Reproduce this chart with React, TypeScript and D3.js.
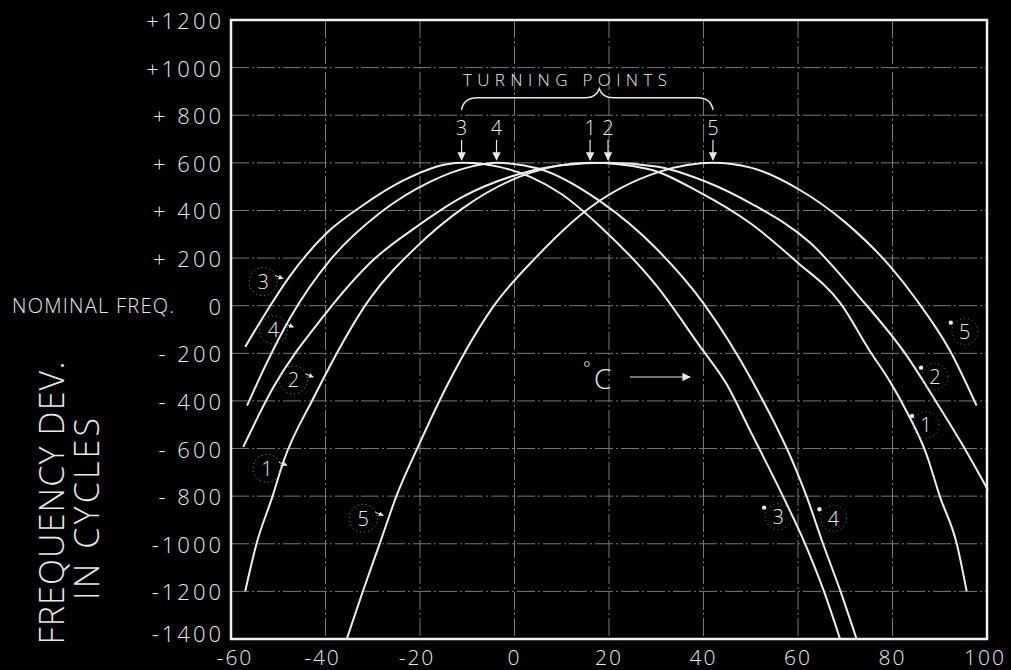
import React from "react";
import * as d3 from "d3";

const W = 1011;
const H = 670;

// Axis ticks and labels
const xTicks = [-60, -40, -20, 0, 20, 40, 60, 80, 100];
const xTickLabels = ["-60", "-40", "-20", "0", "20", "40", "60", "80", "100"];
const yTicks = [1200, 1000, 800, 600, 400, 200, 0, -200, -400, -600, -800, -1000, -1200, -1400];
const yTickLabels = ["+1200", "+1000", "+ 800", "+ 600", "+ 400", "+ 200", "0", "- 200", "- 400", "- 600", "- 800", "-1000", "-1200", "-1400"];

// Curves: [temperature °C, frequency deviation in cycles]
const curve1: [number, number][] = [
  [-57, -1200], [-54.6, -1000], [-51.2, -800], [-49, -660], [-42.6, -390], [-30.6, 30],
  [-20.7, 248], [-10.9, 410], [3.3, 558], [16, 600], [28, 575], [39.3, 475], [50, 345],
  [59.7, 185], [69, 10], [75.2, -190], [79.5, -320], [82.6, -430], [87.2, -625],
  [90, -800], [93.6, -1000], [95.7, -1200],
];
const curve2: [number, number][] = [
  [-57.4, -593], [-51.1, -345], [-40.5, -46], [-29.9, 192], [-20.7, 332], [-10.9, 458],
  [0.5, 550], [10, 590], [19.8, 600], [30, 585], [40, 525], [50, 430], [62.7, 262],
  [72.4, 50], [83, -210], [89, -396], [94.6, -577], [100.2, -774],
];
const curve3: [number, number][] = [
  [-57, -173], [-51.7, 0], [-47.8, 117], [-39.7, 306], [-32, 423], [-23.6, 525],
  [-14.3, 594], [-11, 600], [-3, 582], [3.7, 538], [10, 468], [18, 335], [30, 85],
  [39.3, -172], [44.9, -330], [50, -530], [56.8, -800], [61.5, -1000], [65.5, -1200],
  [68.9, -1400],
];
const curve4: [number, number][] = [
  [-56.6, -420], [-54.9, -345], [-47.5, -52], [-39, 192], [-28.5, 389], [-17.9, 520],
  [-9.4, 583], [-3.8, 600], [5, 576], [18, 440], [30, 240], [40, 10], [50.2, -312],
  [59.4, -680], [61.8, -800], [65.3, -1000], [69, -1200], [72.4, -1400],
];
const curve5: [number, number][] = [
  [-35.5, -1400], [-32, -1194], [-28.5, -998], [-24.9, -795], [-20.4, -592], [-14, -325],
  [-4.5, -4], [4.7, 206], [15.3, 402], [30.8, 563], [42, 600], [50, 580], [60.4, 486],
  [70, 350], [79.5, 165], [85.1, 24], [92.2, -190], [97.8, -420],
];
const curves = [curve1, curve2, curve3, curve4, curve5];

// Turning points (label, temperature)
const turningLabels = ["3", "4", "1", "2", "5"];
const turningTemps = [-11.2, -3.8, 16, 19.8, 42];
const turningValue = 600;

// Curve identification labels (label, temp, value)
const leftCurveLabels = ["3", "4", "2", "1", "5"];
const leftCurveLabelT = [-53.2, -51.0, -46.8, -52.4, -32.0];
const leftCurveLabelV = [101, -102, -312, -683, -893];
const rightCurveLabels = ["5", "2", "1", "3", "4"];
const rightCurveLabelT = [95.3, 89.0, 87.1, 55.8, 67.5];
const rightCurveLabelV = [-109, -298, -501, -886, -893];

const FONT = "'Open Sans', 'DejaVu Sans', sans-serif";
const INK = "#e8e8e8";

export default function App() {
  const x = d3.scaleLinear().domain([-60, 100]).range([231, 987]);
  const y = d3.scaleLinear().domain([-1400, 1200]).range([639, 20]);
  const line = d3
    .line<[number, number]>()
    .x((d) => x(d[0]))
    .y((d) => y(d[1]))
    .curve(d3.curveMonotoneX);

  const x0 = x(-60), x1 = x(100), yTop = y(1200), yBot = y(-1400);
  const yTurn = y(turningValue);

  // brace across the turning points
  const bL = x(turningTemps[0]);
  const bR = x(turningTemps[turningTemps.length - 1]);
  const bM = (bL + bR) / 2 + 12;
  const bY = yTurn - 65;
  const brace = `M${bL},${bY + 12} Q${bL + 2},${bY} ${bL + 16},${bY} L${bM - 14},${bY} Q${bM - 3},${bY} ${bM},${bY - 9} Q${bM + 3},${bY} ${bM + 14},${bY} L${bR - 16},${bY} Q${bR - 2},${bY} ${bR},${bY + 12}`;

  return (
    <svg
      width={W}
      height={H}
      style={{ position: "absolute", left: 0, top: 0, background: "#000" }}
    >
      <defs>
        <marker id="ah" viewBox="0 0 10 10" refX="9" refY="5" markerWidth="7" markerHeight="7" orient="auto">
          <path d="M0,0 L10,5 L0,10 Z" fill={INK} />
        </marker>
        <marker id="ah2" viewBox="0 0 10 10" refX="9" refY="5" markerWidth="5" markerHeight="5" orient="auto">
          <path d="M0,0 L10,5 L0,10 Z" fill={INK} />
        </marker>
      </defs>
      <rect x={0} y={0} width={W} height={H} fill="#000" />

      {/* grid */}
      <g stroke="#a0a0a0" strokeWidth={1} strokeDasharray="18,3,2,3" opacity={0.75}>
        {yTicks.slice(1, -1).map((v) => (
          <line key={"h" + v} x1={x0} x2={x1} y1={y(v)} y2={y(v)} />
        ))}
        {xTicks.slice(1, -1).map((t) => (
          <line key={"v" + t} x1={x(t)} x2={x(t)} y1={yTop} y2={yBot} />
        ))}
      </g>

      {/* frame */}
      <rect x={x0} y={yTop} width={x1 - x0} height={yBot - yTop} fill="none" stroke="#f2f2f2" strokeWidth={2.5} />

      {/* curves */}
      <g fill="none" stroke="#ededed" strokeWidth={2}>
        {curves.map((c, i) => (
          <path key={i} d={line(c) || ""} />
        ))}
      </g>

      {/* y tick labels */}
      <g fill={INK} fontFamily={FONT} fontWeight={300} fontSize={22} letterSpacing={3}>
        {yTicks.map((v, i) => (
          <text key={v} x={224} y={y(v) - (v === -1400 ? 6 : 0)} textAnchor="end" dominantBaseline="central">
            {yTickLabels[i]}
          </text>
        ))}
        <text x={12} y={y(0)} dominantBaseline="central" fontSize={20} letterSpacing={0} textLength={162} lengthAdjust="spacing">
          NOMINAL FREQ.
        </text>
      </g>

      {/* x tick labels */}
      <g fill={INK} fontFamily={FONT} fontWeight={300} fontSize={21} letterSpacing={2}>
        {xTicks.map((t, i) => (
          <text key={t} x={x(t) + (t === -60 ? 4 : t < 0 ? -3 : t === 100 ? -2 : 0)} y={657} textAnchor="middle" dominantBaseline="central">
            {xTickLabels[i]}
          </text>
        ))}
      </g>

      {/* y axis title */}
      <g fill={INK} fontFamily={FONT} fontWeight={300}>
        <text transform="translate(51,503) rotate(-90)" textAnchor="middle" dominantBaseline="central" fontSize={34} textLength={283} lengthAdjust="spacing">
          FREQUENCY DEV.
        </text>
        <text transform="translate(86,509) rotate(-90)" textAnchor="middle" dominantBaseline="central" fontSize={34} textLength={182} lengthAdjust="spacing">
          IN CYCLES
        </text>
      </g>

      {/* turning points */}
      <g fill={INK} fontFamily={FONT} fontWeight={300}>
        <text x={565} y={79} textAnchor="middle" dominantBaseline="central" fontSize={17} textLength={204} lengthAdjust="spacing">
          TURNING POINTS
        </text>
        <path d={brace} fill="none" stroke={INK} strokeWidth={1.5} />
        {turningTemps.map((t, i) => (
          <g key={i}>
            <text x={x(t)} y={yTurn - 35} textAnchor="middle" dominantBaseline="central" fontSize={20}>
              {turningLabels[i]}
            </text>
            <line x1={x(t)} x2={x(t)} y1={yTurn - 23} y2={yTurn - 3} stroke={INK} strokeWidth={1.2} markerEnd="url(#ah)" />
          </g>
        ))}
      </g>

      {/* curve labels, left */}
      <g fontFamily={FONT} fontWeight={300} fontSize={20}>
        {leftCurveLabels.map((lab, i) => {
          const cx = x(leftCurveLabelT[i]);
          const cy = y(leftCurveLabelV[i]);
          return (
            <g key={"l" + i}>
              <circle cx={cx} cy={cy} r={14} fill="none" stroke="#999" strokeWidth={1} strokeDasharray="1,3" />
              <text x={cx} y={cy} textAnchor="middle" dominantBaseline="central" fill={INK}>
                {lab}
              </text>
              <line x1={cx + 12} y1={cy - 6} x2={cx + 20} y2={cy - 3} stroke={INK} strokeWidth={1} markerEnd="url(#ah2)" />
            </g>
          );
        })}
      </g>

      {/* curve labels, right */}
      <g fontFamily={FONT} fontWeight={300} fontSize={20}>
        {rightCurveLabels.map((lab, i) => {
          const cx = x(rightCurveLabelT[i]);
          const cy = y(rightCurveLabelV[i]);
          return (
            <g key={"r" + i}>
              <circle cx={cx} cy={cy} r={13} fill="none" stroke="#777" strokeWidth={1} strokeDasharray="1,3" />
              <text x={cx} y={cy} textAnchor="middle" dominantBaseline="central" fill={INK}>
                {lab}
              </text>
              <circle cx={cx - 14} cy={cy - 9} r={2.2} fill={INK} />
            </g>
          );
        })}
      </g>

      {/* degree C arrow */}
      <g fill={INK} fontFamily={FONT} fontWeight={300}>
        <text x={583} y={368} fontSize={18} dominantBaseline="central">°</text>
        <text x={594} y={378} fontSize={28} dominantBaseline="central">C</text>
        <line x1={630} x2={690} y1={377} y2={377} stroke={INK} strokeWidth={1.2} markerEnd="url(#ah)" />
      </g>
    </svg>
  );
}
